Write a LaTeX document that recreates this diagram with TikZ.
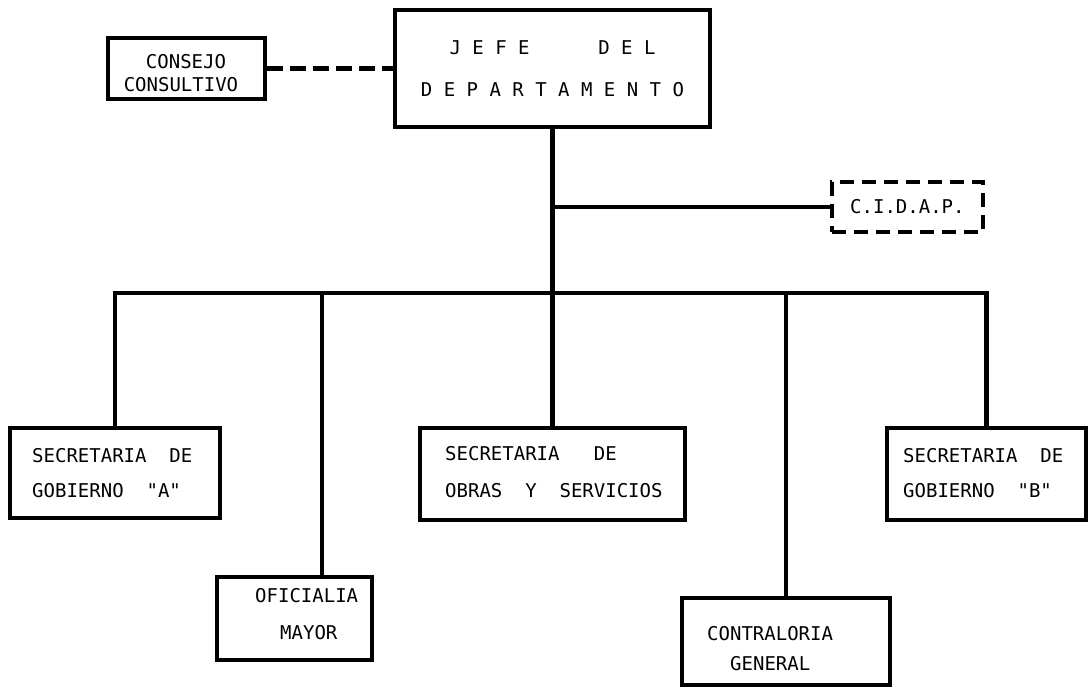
\documentclass[tikz,border=0pt]{standalone}
\usepackage{fontspec}
\setmonofont{DejaVu Sans Mono}
\begin{document}
\begin{tikzpicture}[x=1pt,y=-1pt,
  orgbox/.style={draw, line width=4.2pt, rectangle, inner sep=0pt},
  txt/.style={anchor=base west, inner sep=0pt, font=\ttfamily\fontsize{19}{22}\selectfont},
  txtc/.style={anchor=base, inner sep=0pt, font=\ttfamily\fontsize{19}{22}\selectfont},
  conn/.style={line width=4.2pt},
  dconn/.style={line width=4.5pt, dash pattern=on 16pt off 7pt}]
\useasboundingbox (0,0) rectangle (1088,687);
% boxes
\node[orgbox, minimum width=315pt, minimum height=117pt] (jefe) at (552.5,68.5) {};
\node[orgbox, minimum width=157pt, minimum height=61pt] (consejo) at (186.5,68.5) {};
\node[orgbox, dash pattern=on 14pt off 8pt, minimum width=151pt, minimum height=50pt] (cidap) at (907.5,207) {};
\node[orgbox, minimum width=210pt, minimum height=90pt] (sga) at (115,473) {};
\node[orgbox, minimum width=265pt, minimum height=92pt] (obras) at (552.5,474) {};
\node[orgbox, minimum width=199pt, minimum height=92pt] (sgb) at (986.5,474) {};
\node[orgbox, minimum width=155pt, minimum height=83pt] (ofic) at (294.5,618.5) {};
\node[orgbox, minimum width=208pt, minimum height=87pt] (contra) at (786,641.5) {};
% texts
\node[txtc] (t1) at (552.5,55) {J~E~F~E~~~~~~D~E~L};
\node[txtc] (t2) at (552.5,97) {D~E~P~A~R~T~A~M~E~N~T~O};
\node[txtc] (t3) at (186,69) {CONSEJO};
\node[txtc] (t4) at (181,92) {CONSULTIVO};
\node[txt] (t5) at (850,214) {C.I.D.A.P.};
\node[txt] (t6) at (32,462) {SECRETARIA~~DE};
\node[txt] (t7) at (32,497) {GOBIERNO~~"A"};
\node[txt] (t8) at (445,460) {SECRETARIA~~~DE};
\node[txt] (t9) at (445,497) {OBRAS~~Y~~SERVICIOS};
\node[txt] (t10) at (903,462) {SECRETARIA~~DE};
\node[txt] (t11) at (903,497) {GOBIERNO~~"B"};
\node[txt] (t12) at (255,602) {OFICIALIA};
\node[txt] (t13) at (280,639) {MAYOR};
\node[txt] (t14) at (707,640) {CONTRALORIA};
\node[txt] (t15) at (730,670) {GENERAL};
% connectors
\coordinate (bus) at (0,293);
\coordinate (oficTop) at ([xshift=27.5pt]ofic.north);
\draw[dconn] (consejo.east) -- (jefe.west);
\draw[conn] (jefe.south) -- (jefe.south |- bus);
\draw[conn] (jefe.south |- cidap.west) -- (cidap.west);
\draw[conn] ([xshift=-2.1pt]sga.north |- bus) -- ([xshift=2.1pt]sgb.north |- bus);
\draw[conn] (sga.north |- bus) -- (sga.north);
\draw[conn] (oficTop |- bus) -- (oficTop);
\draw[conn] (obras.north |- bus) -- (obras.north);
\draw[conn] (contra.north |- bus) -- (contra.north);
\draw[conn] (sgb.north |- bus) -- (sgb.north);
\end{tikzpicture}
\end{document}
